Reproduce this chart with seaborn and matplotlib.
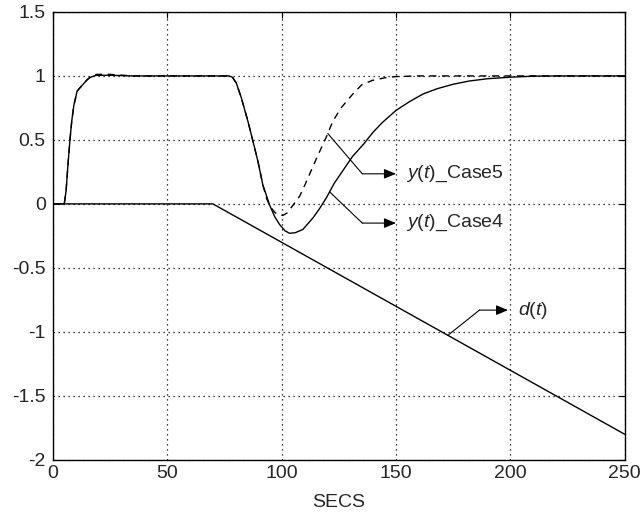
import numpy as np
import pandas as pd
import matplotlib
matplotlib.use("Agg")
import matplotlib.pyplot as plt
import seaborn as sns

# Output response, case 4 (solid)
t_case4 = [0, 5, 5.8, 6.6, 7.5, 8.3, 9.2, 10.6, 12, 13.5, 15, 16.5, 19, 25, 35,
           77, 78.5, 80.2, 82.4, 85.3, 87.5, 89.7, 91.8, 94.8, 97, 99.1, 101.5,
           103.5, 106, 109.3, 113.7, 116.5, 119.5, 123, 126.8, 131, 136, 140,
           144, 150, 156, 162, 168, 175, 182, 190, 200, 210, 220, 250]
y_case4 = [0, 0, 0.1, 0.3, 0.5, 0.65, 0.77, 0.88, 0.91, 0.94, 0.97, 0.99, 1.005,
           1.005, 1.0, 1.0, 0.99, 0.945, 0.83, 0.645, 0.49, 0.33, 0.15, -0.01,
           -0.10, -0.16, -0.21, -0.23, -0.225, -0.2, -0.11, -0.04, 0.045, 0.16,
           0.26, 0.37, 0.47, 0.56, 0.635, 0.73, 0.8, 0.86, 0.9, 0.935, 0.96,
           0.978, 0.99, 0.998, 1.0, 1.0]

# Output response, case 5 (dashed)
t_case5 = [0, 5, 5.8, 6.6, 7.5, 8.3, 9.2, 10.6, 12, 13.5, 15, 16.5, 19, 25, 35,
           77, 78.5, 80.2, 82.4, 85.3, 87.5, 89.7, 91.8, 93.5, 95, 97, 98.4,
           100.6, 102.5, 105, 107.9, 110, 112.2, 115.9, 119.5, 122.4, 126, 131,
           135, 139.7, 145, 150, 160, 250]
y_case5 = [0, 0, 0.1, 0.3, 0.5, 0.65, 0.77, 0.88, 0.91, 0.94, 0.97, 0.995, 1.012,
           1.012, 1.0, 1.0, 0.99, 0.945, 0.83, 0.645, 0.49, 0.33, 0.15, 0.04,
           -0.02, -0.065, -0.085, -0.09, -0.07, -0.01, 0.06, 0.14, 0.23, 0.38,
           0.52, 0.645, 0.75, 0.855, 0.93, 0.965, 0.985, 0.995, 1.0, 1.0]

# Disturbance d(t): zero, then a ramp
t_dist = [0, 70, 250]
y_dist = [0, 0, -1.8]

x_ticks = [0, 50, 100, 150, 200, 250]
y_ticks = [-2, -1.5, -1, -0.5, 0, 0.5, 1, 1.5]
y_tick_labels = ["-2", "-1.5", "-1", "-0.5", "0", "0.5", "1", "1.5"]

sns.set_theme(style="white")
plt.rcParams["font.family"] = ["Liberation Sans", "DejaVu Sans"]
plt.rcParams["mathtext.fontset"] = "custom"
plt.rcParams["mathtext.it"] = "Liberation Sans:italic"
plt.rcParams["mathtext.rm"] = "Liberation Sans"

FS = 14

fig = plt.figure(figsize=(6.44, 5.19), dpi=100)
ax = fig.add_axes([0.082, 0.114, 0.888, 0.863])

df4 = pd.DataFrame({"t": t_case4, "y": y_case4})
df5 = pd.DataFrame({"t": t_case5, "y": y_case5})
dfd = pd.DataFrame({"t": t_dist, "y": y_dist})

sns.lineplot(data=df4, x="t", y="y", ax=ax, color="black", lw=1.0,
             estimator=None, sort=False)
sns.lineplot(data=df5, x="t", y="y", ax=ax, color="black", lw=1.0,
             linestyle=(0, (5, 4)), estimator=None, sort=False)
sns.lineplot(data=dfd, x="t", y="y", ax=ax, color="black", lw=1.0,
             estimator=None, sort=False)

ax.set_xlim(0, 250)
ax.set_ylim(-2, 1.5)
ax.set_xticks(x_ticks)
ax.set_xticklabels([str(v) for v in x_ticks])
ax.set_yticks(y_ticks)
ax.set_yticklabels(y_tick_labels)
ax.grid(True, color="black", linestyle=(0, (1, 3)), lw=0.9)
ax.set_xlabel("SECS", fontsize=FS, labelpad=8)
ax.set_ylabel("")
ax.tick_params(direction="in", length=4, width=0.8, color="black",
               labelsize=FS, top=True, right=True)
ax.tick_params(axis="y", pad=5)
ax.tick_params(axis="x", pad=4)
for s in ax.spines.values():
    s.set_color("black")
    s.set_linewidth(1.0)


def label_curve(t_arr, y_arr, t_on, elbow, end, text):
    y_on = np.interp(t_on, t_arr, y_arr)
    ax.plot([t_on, elbow[0]], [y_on, elbow[1]], color="black", lw=0.8)
    ax.annotate("", xy=end, xytext=elbow,
                arrowprops=dict(arrowstyle="-|>,head_length=0.6,head_width=0.25",
                                color="black", lw=0.8, shrinkA=0, shrinkB=0))
    ax.text(end[0] + 4.5, end[1], text, fontsize=FS, va="center", ha="left")


label_curve(t_case5, y_case5, 120.2, (135.3, 0.235), (150, 0.235),
            r"$\mathit{y(t)}$_Case5")
label_curve(t_case4, y_case4, 121, (135.3, -0.15), (150, -0.15),
            r"$\mathit{y(t)}$_Case4")
label_curve(t_dist, y_dist, 172.7, (186.5, -0.83), (199, -0.83),
            r"$\mathit{d(t)}$")

fig.savefig("out.png", dpi=100, facecolor="white")
